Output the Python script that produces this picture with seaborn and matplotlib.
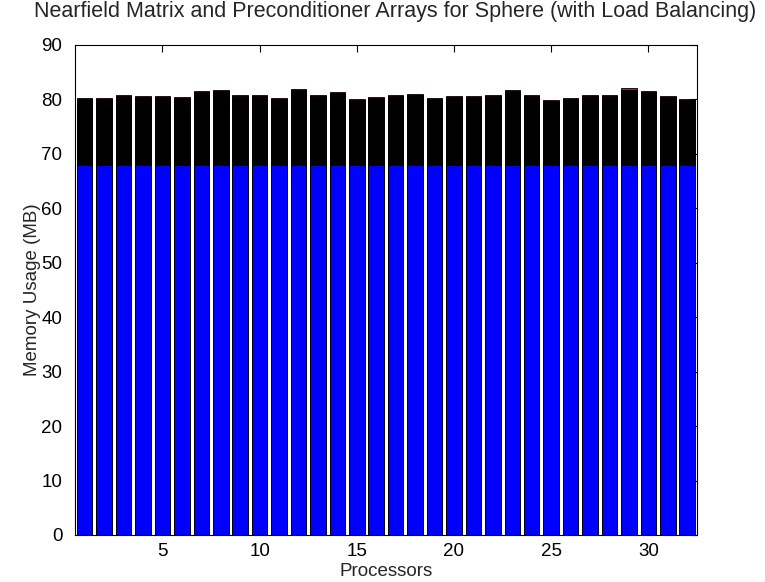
import numpy as np
import pandas as pd
import matplotlib
matplotlib.use("Agg")
import matplotlib.pyplot as plt
import seaborn as sns

processors = list(range(1, 33))
totals = [80.2, 80.2, 80.8, 80.6, 80.6, 80.45, 81.6, 81.7, 80.8, 80.8,
          80.3, 81.9, 80.8, 81.3, 80.1, 80.45, 80.8, 81.0, 80.2, 80.6,
          80.6, 80.8, 81.75, 80.8, 79.9, 80.3, 80.8, 80.8, 82.0, 81.5,
          80.7, 80.0]
blue_part = [68.0] * 32
red_part = [0.2] * 32
black_part = [t - b - r for t, b, r in zip(totals, blue_part, red_part)]

sns.set_theme(style="white")
plt.rcParams['font.family'] = ['Liberation Sans', 'DejaVu Sans']

df = pd.DataFrame({
    "proc": processors,
    "blue": blue_part,
    "blueblack": [b + k for b, k in zip(blue_part, black_part)],
    "total": [b + k + r for b, k, r in zip(blue_part, black_part, red_part)],
})

fig = plt.figure(figsize=(7.65, 5.82), dpi=100)
ax = fig.add_axes([0.098, 0.0808, 0.813, 0.842])

kw = dict(native_scale=True, width=0.8, edgecolor="black", linewidth=0.6,
          errorbar=None, ax=ax)
sns.barplot(data=df, x="proc", y="total", color="#ff0000", saturation=1, **kw)
sns.barplot(data=df, x="proc", y="blueblack", color="#000000", saturation=1, **kw)
sns.barplot(data=df, x="proc", y="blue", color="#0000ff", saturation=1, **kw)

ax.set_xlim(0.5, 32.5)
ax.set_ylim(0, 90)
ax.set_xticks([5, 10, 15, 20, 25, 30])
ax.set_xticklabels(["5", "10", "15", "20", "25", "30"])
ax.set_yticks(range(0, 91, 10))
ax.tick_params(direction="in", length=5, width=0.8, top=True, right=True,
               labelsize=13.5, colors="black")
ax.tick_params(axis="y", pad=9)
ax.tick_params(axis="x", pad=6)
for s in ax.spines.values():
    s.set_visible(True)
    s.set_color("black")
    s.set_linewidth(0.8)
ax.set_xlabel("Processors", fontsize=13.5, labelpad=2)
ax.set_ylabel("Memory Usage (MB)", fontsize=13.5)
ax.yaxis.set_label_coords(-0.055, 0.5)
fig.text(0.516, 0.962, "Nearfield Matrix and Preconditioner Arrays for Sphere (with Load Balancing)",
         ha="center", va="bottom", fontsize=15.5)
ax.grid(False)

fig.savefig("out.png", dpi=100)
